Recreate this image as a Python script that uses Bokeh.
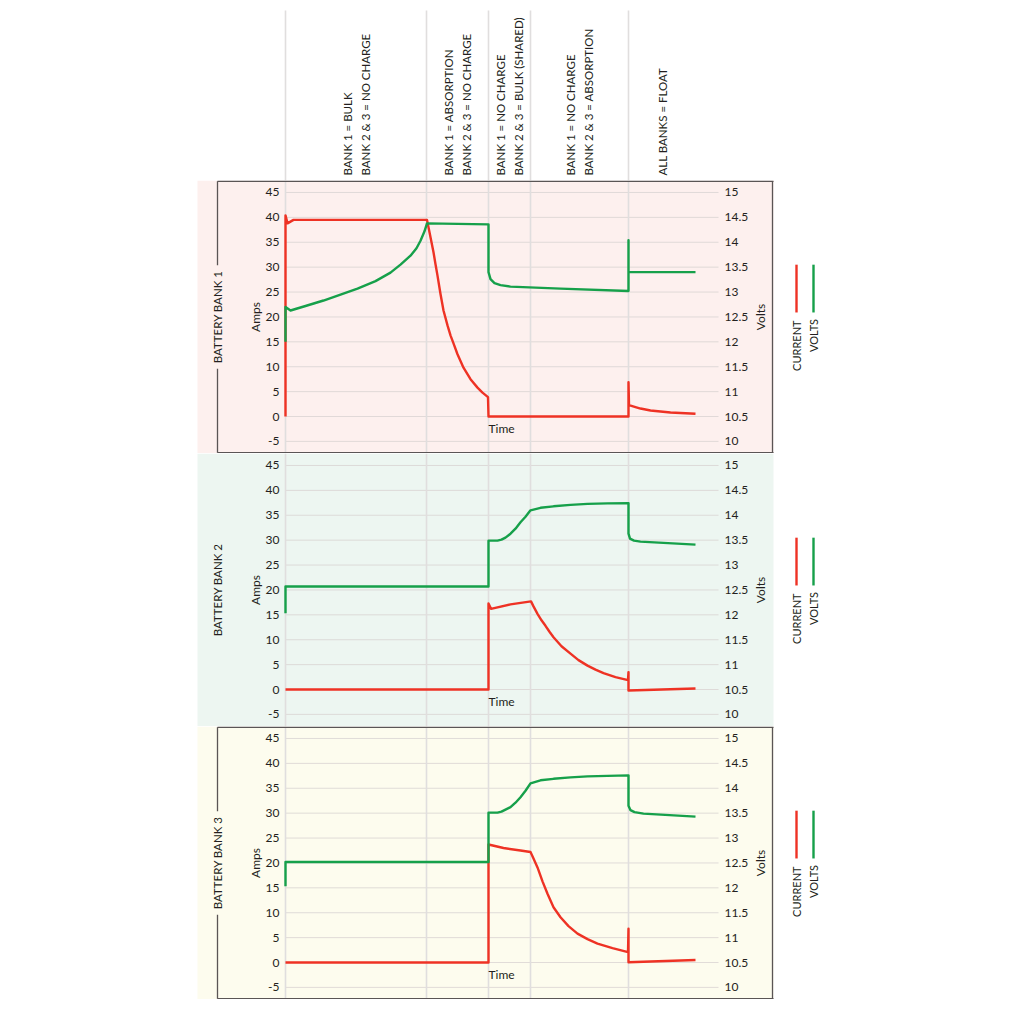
import math
from bokeh.plotting import figure
from bokeh.layouts import column
from bokeh.models import Range1d
from bokeh.core.properties import value
from bokeh.embed import file_html
from bokeh.resources import INLINE

# ---- phases (time units, no scale shown) ----
phase_t = [0.0, 14.1, 20.3, 24.5, 34.3]
t_end = 41.0
phase_line1 = ["BANK 1 = BULK", "BANK 1 = ABSORPTION", "BANK 1 = NO CHARGE",
               "BANK 1 = NO CHARGE", "ALL BANKS = FLOAT"]
phase_line2 = ["BANK 2 & 3 = NO CHARGE", "BANK 2 & 3 = NO CHARGE",
               "BANK 2 & 3 = BULK (SHARED)", "BANK 2 & 3 = ABSORPTION", ""]

# ---- axis ticks ----
amp_ticks = [-5, 0, 5, 10, 15, 20, 25, 30, 35, 40, 45]
volt_ticks = [10, 10.5, 11, 11.5, 12, 12.5, 13, 13.5, 14, 14.5, 15]
volt_labels = ["10", "10.5", "11", "11.5", "12", "12.5", "13", "13.5", "14", "14.5", "15"]

# ---- bank 1 ----
b1_amp_t = [0, 0, 0.2, 0.8, 14.15, 14.4, 14.6, 14.8, 15.0, 15.2, 15.5, 15.8, 16.2, 16.5,
            16.8, 17.2, 17.8, 18.5, 19.2, 19.7, 20.25, 20.3, 34.3, 34.3, 34.35, 35.0,
            35.5, 36.5, 37.5, 38.5, 39.5, 41.0]
b1_amp = [0, 40.4, 38.8, 39.5, 39.5, 37.0, 35.0, 33.0, 30.6, 28.3, 24.6, 21.3, 18.3, 16.3,
          14.7, 12.5, 9.8, 7.5, 5.8, 4.8, 3.9, 0, 0, 6.9, 2.3, 1.9,
          1.6, 1.2, 1.0, 0.8, 0.7, 0.55]
b1_volt_t = [0, 0, 0.5, 2.0, 3.8, 5.5, 7.2, 9.0, 10.5, 11.5, 12.5, 13.1, 13.5, 13.9, 14.15,
             20.3, 20.3, 20.5, 20.9, 21.5, 22.5, 27.5, 34.3, 34.3, 34.3, 41.0]
b1_volt = [12.00, 12.70, 12.63, 12.72, 12.83, 12.95, 13.07, 13.22, 13.39, 13.55, 13.73, 13.88,
           14.03, 14.22, 14.38, 14.36, 13.40, 13.26, 13.18, 13.14, 13.11, 13.07, 13.02, 14.04,
           13.40, 13.40]

# ---- bank 2 ----
b2_amp_t = [0, 20.3, 20.3, 20.55, 22.5, 24.55, 24.8, 25.2, 25.6, 26.0, 26.4, 26.8, 27.6,
            28.5, 29.3, 30.2, 31.0, 31.8, 33.0, 34.25, 34.3, 34.3, 41.0]
b2_amp = [0, 0, 17.3, 16.2, 17.1, 17.7, 16.7, 15.2, 13.9, 12.8, 11.6, 10.5, 8.7,
          7.2, 5.9, 4.8, 4.0, 3.3, 2.5, 1.9, 3.5, -0.2, 0.2]
b2_volt_t = [0, 0, 20.3, 20.3, 21.2, 21.6, 22.0, 22.5, 23.0, 23.5, 24.0, 24.5, 25.5, 26.8,
             28.5, 30.2, 32.2, 34.3, 34.3, 34.45, 34.85, 35.5, 41.0]
b2_volt = [12.03, 12.57, 12.57, 13.49, 13.49, 13.51, 13.55, 13.63, 13.73, 13.86, 13.97, 14.10,
           14.15, 14.18, 14.21, 14.23, 14.24, 14.245, 13.63, 13.53, 13.49, 13.47, 13.41]

# ---- bank 3 ----
b3_amp_t = [0, 20.3, 20.3, 21.8, 23.5, 24.5, 24.8, 25.2, 25.7, 26.2, 26.8, 27.5, 28.3,
            29.2, 30.2, 31.2, 32.7, 34.25, 34.3, 34.3, 41.0]
b3_amp = [0, 0, 23.7, 23.0, 22.5, 22.2, 20.9, 19.1, 16.3, 13.8, 11.1, 9.1, 7.3,
          5.8, 4.7, 3.8, 2.9, 2.1, 6.8, 0.05, 0.5]
b3_volt_t = [0, 0, 20.3, 20.3, 21.2, 21.6, 22.0, 22.5, 23.0, 23.5, 24.0, 24.5, 25.5, 26.8,
             28.5, 30.2, 32.2, 34.3, 34.3, 34.5, 34.9, 35.8, 41.0]
b3_volt = [12.03, 12.52, 12.52, 13.51, 13.51, 13.53, 13.57, 13.62, 13.71, 13.82, 13.95, 14.10,
           14.16, 14.19, 14.22, 14.24, 14.25, 14.26, 13.65, 13.56, 13.52, 13.49, 13.43]

banks = [
    ("BATTERY BANK 1", "#fdf0ee", True, b1_amp_t, b1_amp, b1_volt_t, b1_volt),
    ("BATTERY BANK 2", "#edf6f1", False, b2_amp_t, b2_amp, b2_volt_t, b2_volt),
    ("BATTERY BANK 3", "#fdfcee", True, b3_amp_t, b3_amp, b3_volt_t, b3_volt),
]

RED = "#ee3224"
GREEN = "#16a04a"
TEXT = "#231f20"
PHASE_LINE = "#e0dede"
GRID = "#d9d3d2"
FONT = value("Lato")

X0, X1 = -28.5, 73.9          # ten pixels per time unit over 1024 px
A0, A1 = -7.43, 47.41         # amps shown in each panel
BG_L, BG_R = -8.8, 48.8       # tinted panel area
BOX_L = -6.8
GRID_R = 43.3


def amps_to_volts(a):
    return 10.5 + a / 10.0


def header():
    h = figure(width=1024, height=180, x_range=Range1d(X0, X1), y_range=Range1d(0, 180),
               output_backend="svg", toolbar_location=None, min_border=0,
               x_axis_type=None, y_axis_type=None, outline_line_color=None)
    h.segment(x0=phase_t, x1=phase_t, y0=[0] * len(phase_t), y1=[170] * len(phase_t),
              line_color=PHASE_LINE, line_width=1.6)
    bounds = phase_t + [t_end]
    for i in range(len(phase_t)):
        mid = (bounds[i] + bounds[i + 1]) / 2
        rows = [r for r in (phase_line1[i], phase_line2[i]) if r]
        offs = [-0.9, 0.9] if len(rows) == 2 else [0.0]
        for r, o in zip(rows, offs):
            h.text(x=[mid + o], y=[5], text=[r], angle=math.pi / 2, text_align="left",
                   text_baseline="middle", text_font=FONT, text_font_size="11.5px",
                   text_color=TEXT)
    return h


def panel(title, bg, boxed, at, av, vt, vv):
    p = figure(width=1024, height=273, x_range=Range1d(X0, X1), y_range=Range1d(A0, A1),
               output_backend="svg", toolbar_location=None, min_border=0,
               x_axis_type=None, y_axis_type=None, outline_line_color=None)
    p.extra_y_ranges = {"volts": Range1d(amps_to_volts(A0), amps_to_volts(A1))}

    p.quad(left=[BG_L], right=[BG_R], bottom=[A0], top=[A1], fill_color=bg, line_color=None)
    p.segment(x0=[0] * len(amp_ticks), x1=[GRID_R] * len(amp_ticks), y0=amp_ticks, y1=amp_ticks,
              line_color=GRID, line_width=1, line_alpha=0.8)
    p.segment(x0=phase_t, x1=phase_t, y0=[A0] * len(phase_t), y1=[A1] * len(phase_t),
              line_color=PHASE_LINE, line_width=1.6)

    if boxed:
        top, bot = A1 - 0.15, A0 + 0.15
        p.segment(x0=[BOX_L, BOX_L, BG_R - 0.1, BOX_L, BOX_L],
                  x1=[BG_R, BG_R, BG_R - 0.1, BOX_L, BOX_L],
                  y0=[top, bot, bot, top, 9.6], y1=[top, bot, top, 30.4, bot],
                  line_color="#5a5555", line_width=1.3)

    # tick labels
    p.text(x=[-0.6] * len(amp_ticks), y=amp_ticks, text=[str(a) for a in amp_ticks],
           text_align="right", text_baseline="middle", text_font=FONT,
           text_font_size="12px", text_color=TEXT)
    p.text(x=[43.9] * len(volt_ticks), y=volt_ticks, text=volt_labels, y_range_name="volts",
           text_align="left", text_baseline="middle", text_font=FONT,
           text_font_size="12px", text_color=TEXT)

    # axis titles
    p.text(x=[-3.0], y=[20], text=["Amps"], angle=math.pi / 2, text_align="center",
           text_baseline="middle", text_font=FONT, text_font_size="12px", text_color=TEXT)
    p.text(x=[47.5], y=[20], text=["Volts"], angle=math.pi / 2, text_align="center",
           text_baseline="middle", text_font=FONT, text_font_size="12px", text_color=TEXT)
    p.text(x=[20.3], y=[-2.4], text=["Time"], text_align="left", text_baseline="middle",
           text_font=FONT, text_font_size="12px", text_color=TEXT)
    p.text(x=[BOX_L], y=[20], text=[title], angle=math.pi / 2, text_align="center",
           text_baseline="middle", text_font=FONT, text_font_size="11.5px", text_color=TEXT)

    # series
    p.line(at, av, line_color=RED, line_width=2.4, line_join="round")
    p.line(vt, vv, y_range_name="volts", line_color=GREEN, line_width=2.4, line_join="round")

    # key
    p.segment(x0=[51.1], x1=[51.1], y0=[20.9], y1=[30.5], line_color=RED, line_width=2.4)
    p.segment(x0=[52.8], x1=[52.8], y0=[20.9], y1=[30.5], line_color=GREEN, line_width=2.4)
    p.text(x=[51.1], y=[19.3], text=["CURRENT"], angle=math.pi / 2, text_align="right",
           text_baseline="middle", text_font=FONT, text_font_size="11px", text_color=TEXT)
    p.text(x=[52.8], y=[19.6], text=["VOLTS"], angle=math.pi / 2, text_align="right",
           text_baseline="middle", text_font=FONT, text_font_size="11px", text_color=TEXT)
    return p


figs = [header()] + [panel(*b) for b in banks]
layout = column(*figs, spacing=0)

open("out.html", "w").write(file_html(layout, INLINE))
